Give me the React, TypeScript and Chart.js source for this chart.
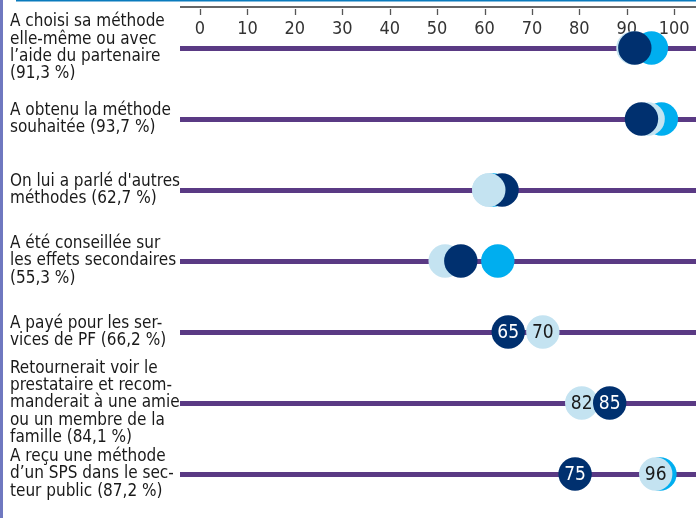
import React, { useEffect, useRef } from "react";
import { Chart, registerables } from "chart.js";

Chart.register(...registerables);

// ---- Data ----
const rowLabels: string[][] = [
  ["A choisi sa méthode", "elle-même ou avec", "l’aide du partenaire", "(91,3 %)"],
  ["A obtenu la méthode", "souhaitée (93,7 %)"],
  ["On lui a parlé d'autres", "méthodes (62,7 %)"],
  ["A été conseillée sur", "les effets secondaires", "(55,3 %)"],
  ["A payé pour les ser-", "vices de PF (66,2 %)"],
  ["Retournerait voir le", "prestataire et recom-", "manderait à une amie", "ou un membre de la", "famille (84,1 %)"],
  ["A reçu une méthode", "d’un SPS dans le sec-", "teur public (87,2 %)"],
];

const lightValues: (number | null)[] = [91.3, 94.5, 60.9, 51.7, 72.3, 80.5, 96.1];
const navyValues: (number | null)[] = [91.7, 93.1, 63.7, 55.0, 65.0, 86.4, 79.1];
const cyanValues: (number | null)[] = [95.2, 97.3, 61.8, 62.8, null, null, 97.0];

const lightValueLabels: (string | null)[] = [null, null, null, null, "70", "82", "96"];
const navyValueLabels: (string | null)[] = [null, null, null, null, "65", "85", "75"];

// rows where the light blue dot sits in front of the navy one
const lightInFrontRows: number[] = [2];

const tickValues: number[] = [0, 10, 20, 30, 40, 50, 60, 70, 80, 90, 100];
const tickLabels: string[] = ["0", "10", "20", "30", "40", "50", "60", "70", "80", "90", "100"];

// ---- Styles ----
const FONT = "'Liberation Sans Narrow', 'DejaVu Sans Condensed', 'Roboto', sans-serif";
const LIGHT = "#c4e3f1";
const NAVY = "#00306f";
const CYAN = "#00aeef";
const PURPLE = "#5a3a84";

const toPoints = (vals: (number | null)[]) =>
  vals.map((v, i) => ({ x: v, y: i }));

const framePlugin = {
  id: "frame",
  afterDraw(chart: any) {
    const ctx = chart.ctx;
    const xs = chart.scales.x;
    ctx.save();
    ctx.fillStyle = "#6f78c0";
    ctx.fillRect(0, 0, 3, chart.height);
    ctx.fillStyle = "#0a7bbd";
    ctx.fillRect(16, 0, chart.width - 16, 1.5);
    ctx.fillStyle = "#666666";
    ctx.fillRect(chart.chartArea.left, 6, chart.chartArea.right - chart.chartArea.left, 2);
    ctx.strokeStyle = "#555555";
    ctx.lineWidth = 1.3;
    tickValues.forEach((t) => {
      const px = Math.round(xs.getPixelForValue(t)) + 0.5;
      ctx.beginPath();
      ctx.moveTo(px, 9);
      ctx.lineTo(px, 15);
      ctx.stroke();
    });
    ctx.restore();
  },
};

const valueLabelPlugin = {
  id: "valueLabels",
  afterDatasetDraw(chart: any, args: any) {
    const ds = chart.data.datasets[args.index] as any;
    if (!ds.valueLabels) return;
    const ctx = chart.ctx;
    ctx.save();
    ctx.font = `19px ${FONT}`;
    ctx.textAlign = "center";
    ctx.textBaseline = "middle";
    ctx.fillStyle = ds.valueLabelColor;
    args.meta.data.forEach((el: any, i: number) => {
      const t = ds.valueLabels[i];
      if (!t || el.skip) return;
      ctx.fillText(t, el.x, el.y + 1);
    });
    ctx.restore();
  },
};

export default function App() {
  const ref = useRef<HTMLCanvasElement | null>(null);

  useEffect(() => {
    if (!ref.current) return;
    const pointOpts = { pointRadius: 16.7, pointHoverRadius: 16.7, borderWidth: 0, showLine: false, clip: false as any };
    const chart = new Chart(ref.current, {
      type: "scatter",
      data: {
        datasets: [
          {
            label: "front",
            data: toPoints(lightValues.map((v, i) => (lightInFrontRows.includes(i) ? v : null))),
            backgroundColor: LIGHT,
            order: 1,
            ...pointOpts,
          },
          {
            label: "navy",
            data: toPoints(navyValues),
            backgroundColor: NAVY,
            order: 2,
            valueLabels: navyValueLabels,
            valueLabelColor: "#ffffff",
            ...pointOpts,
          } as any,
          {
            label: "light",
            data: toPoints(lightValues),
            backgroundColor: LIGHT,
            order: 3,
            valueLabels: lightValueLabels,
            valueLabelColor: "#1a1a1a",
            ...pointOpts,
          } as any,
          {
            label: "cyan",
            data: toPoints(cyanValues),
            backgroundColor: CYAN,
            order: 4,
            ...pointOpts,
          },
        ],
      },
      options: {
        animation: false,
        responsive: true,
        maintainAspectRatio: false,
        layout: { autoPadding: false, padding: { left: 10, top: 0, right: 0, bottom: 44 } },
        plugins: { legend: { display: false }, tooltip: { enabled: false } },
        scales: {
          x: {
            type: "linear",
            position: "top",
            min: -4.22,
            max: 104.6,
            afterBuildTicks: (scale: any) => {
              scale.ticks = tickValues.map((v) => ({ value: v }));
            },
            afterFit: (scale: any) => {
              scale.height = 48;
              scale.paddingLeft = 0;
              scale.paddingRight = 0;
            },
            grid: { display: false, drawTicks: false },
            border: { display: false },
            ticks: {
              padding: 8,
              color: "#333333",
              font: { family: FONT, size: 18 },
              maxRotation: 0,
              autoSkip: false,
              callback: (_v: any, i: number) => tickLabels[i],
            },
          },
          y: {
            type: "linear",
            reverse: true,
            min: 0,
            max: rowLabels.length - 1,
            afterBuildTicks: (scale: any) => {
              scale.ticks = rowLabels.map((_, i) => ({ value: i }));
            },
            afterFit: (scale: any) => {
              scale.width = 170;
            },
            grid: { color: PURPLE, lineWidth: 5, drawTicks: false },
            border: { display: false },
            ticks: {
              crossAlign: "far",
              padding: 0,
              color: "#1a1a1a",
              autoSkip: false,
              font: { family: FONT, size: 17, lineHeight: 1.02 },
              callback: (_v: any, i: number) => rowLabels[i],
            },
          },
        },
      },
      plugins: [framePlugin, valueLabelPlugin],
    } as any);
    return () => chart.destroy();
  }, []);

  return (
    <div style={{ position: "fixed", left: 0, top: 0, width: 696, height: 518, background: "#ffffff" }}>
      <canvas ref={ref} />
    </div>
  );
}
